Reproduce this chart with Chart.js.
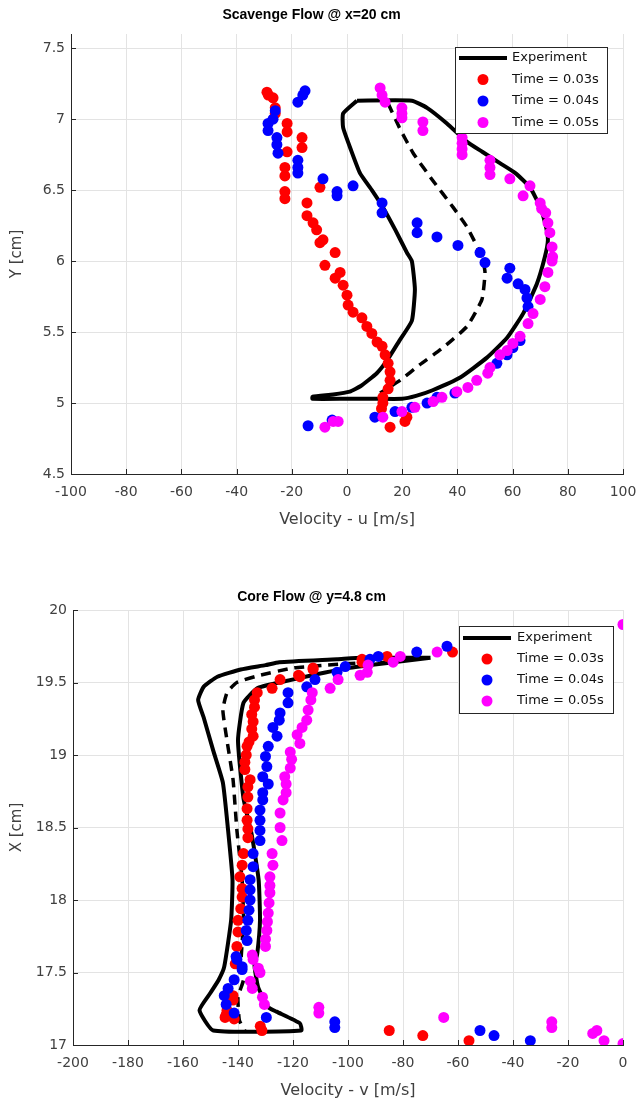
<!DOCTYPE html>
<html>
<head>
<meta charset="utf-8">
<title>Scavenge / Core Flow</title>
<script src="https://cdn.jsdelivr.net/npm/chart.js@4.4.1/dist/chart.umd.min.js"></script>
<style>
	html, body { margin: 0; padding: 0; background: #ffffff; }
	.flow-plot { position: absolute; left: 0; width: 636px; height: 554px; }
	#scavenge-plot { top: 0; }
	#core-plot { top: 554px; }
</style>
</head>
<body>
<div class="flow-plot" id="scavenge-plot"><canvas id="scavenge-canvas" width="636" height="554"></canvas></div>
<div class="flow-plot" id="core-plot"><canvas id="core-canvas" width="636" height="554"></canvas></div>
<script>
// ---- Scavenge flow @ x=20 cm ----
const scavengeXTicks = [-100, -80, -60, -40, -20, 0, 20, 40, 60, 80, 100];
const scavengeYTicks = [4.5, 5, 5.5, 6, 6.5, 7, 7.5];

// experiment envelope (solid), velocity u and height Y
const scavengeExpU = [3.6, -1.4, -1.4, 1.5, 4.7, 9, 13, 17.5, 21.7, 23.5, 24.6, 23.5, 19, 14.5, 10.8, 5, 1, -5, -12.5, -12.5, 0, 10, 20, 25, 31, 41, 50.7, 58, 63.8, 68.8, 71.7, 72.8, 72, 70, 66.3, 61, 55.4, 49, 43.5, 36.2, 29, 23.5, 3.6];
const scavengeExpY = [7.13, 7.04, 6.94, 6.78, 6.62, 6.5, 6.38, 6.22, 6.06, 6.0, 5.8, 5.58, 5.44, 5.3, 5.21, 5.12, 5.08, 5.06, 5.045, 5.03, 5.03, 5.03, 5.03, 5.05, 5.09, 5.18, 5.32, 5.46, 5.63, 5.84, 6.03, 6.15, 6.25, 6.38, 6.52, 6.62, 6.69, 6.77, 6.84, 6.97, 7.08, 7.13, 7.13];
// experiment mean (dashed)
const scavengeMeanU = [14.9, 19, 24, 31, 38.4, 43.5, 48.9, 50, 48.9, 43.5, 34.8, 26.4, 19.2, 12];
const scavengeMeanY = [7.11, 6.94, 6.76, 6.57, 6.38, 6.24, 6.03, 5.92, 5.73, 5.54, 5.39, 5.27, 5.16, 5.07];

const scavengeT03U = [-29, -28.5, -26.8, -26, -26, -21.7, -21.7, -16.3, -16.3, -21.7, -22.5, -22.5, -9.8, -22.5, -22.5, -14.5, -14.5, -12.3, -11, -8.7, -9.8, -4.3, -8, -2.5, -4.3, -1.4, 0, 0.4, 2.2, 5.4, 7.2, 9, 10.9, 12.7, 13.8, 14.9, 15.6, 15.6, 14.9, 13, 13, 12.5, 21.7, 21, 15.6];
const scavengeT03Y = [7.19, 7.17, 7.15, 7.08, 7.04, 6.97, 6.91, 6.87, 6.8, 6.77, 6.66, 6.6, 6.52, 6.49, 6.44, 6.41, 6.32, 6.27, 6.22, 6.15, 6.13, 6.06, 5.97, 5.92, 5.88, 5.83, 5.76, 5.69, 5.64, 5.6, 5.54, 5.49, 5.43, 5.4, 5.34, 5.28, 5.22, 5.16, 5.1, 5.04, 5.0, 4.96, 4.9, 4.87, 4.83];

const scavengeT04U = [-15.2, -16, -17.8, -26, -26.8, -28.6, -28.6, -25.4, -25.4, -25, -17.8, -17.8, -17.8, -8.7, -3.6, -3.6, 2.2, 12.7, 12.7, 25.4, 25.4, 32.6, 40.2, 48.2, 50, 59, 58, 62, 64.5, 65.2, 65.6, 62.7, 60.1, 58, 54.3, 39.1, 32.6, 29, 23.5, 17.4, 10.1, -5.4, -14.1];
const scavengeT04Y = [7.2, 7.17, 7.12, 7.06, 7.0, 6.97, 6.92, 6.87, 6.82, 6.76, 6.71, 6.66, 6.62, 6.58, 6.49, 6.46, 6.53, 6.41, 6.34, 6.27, 6.2, 6.17, 6.11, 6.06, 5.99, 5.95, 5.88, 5.84, 5.8, 5.74, 5.68, 5.44, 5.39, 5.34, 5.28, 5.07, 5.04, 5.0, 4.97, 4.94, 4.9, 4.88, 4.84];

const scavengeT05U = [12, 12.7, 13.8, 19.9, 19.9, 19.9, 27.5, 27.5, 41.7, 41.7, 41.7, 41.7, 51.8, 51.8, 51.8, 59, 66.3, 63.8, 70, 70.5, 72, 72.8, 73.5, 74.3, 74.5, 74.3, 72.8, 71.7, 70, 67.4, 65.6, 62.7, 60.1, 58, 55.4, 51.8, 51, 47, 43.8, 39.8, 34.4, 31.2, 24.6, 19.9, 13, -3.2, -5, -8];
const scavengeT05Y = [7.22, 7.17, 7.12, 7.08, 7.04, 7.01, 6.98, 6.92, 6.87, 6.83, 6.79, 6.75, 6.71, 6.66, 6.61, 6.58, 6.53, 6.46, 6.41, 6.37, 6.34, 6.27, 6.2, 6.1, 6.03, 6.0, 5.92, 5.82, 5.73, 5.63, 5.56, 5.47, 5.42, 5.37, 5.34, 5.25, 5.21, 5.16, 5.11, 5.08, 5.04, 5.01, 4.97, 4.94, 4.9, 4.87, 4.87, 4.83];

// ---- Core flow @ y=4.8 cm ----
const coreXTicks = [-200, -180, -160, -140, -120, -100, -80, -60, -40, -20, 0];
const coreYTicks = [17, 17.5, 18, 18.5, 19, 19.5, 20];

const coreExpV = [-70, -95, -104, -125, -130, -139, -147.5, -152.5, -154.5, -152.5, -149, -145.5, -143.6, -142, -142.5, -145, -147, -150, -154, -149, -117, -117.5, -126, -129, -132.7, -134, -133, -132, -132.5, -135, -138, -140, -138, -133, -125, -113, -100, -88, -70];
const coreExpX = [19.67, 19.67, 19.66, 19.64, 19.62, 19.59, 19.54, 19.47, 19.38, 19.26, 19.03, 18.81, 18.48, 18.14, 17.86, 17.54, 17.45, 17.36, 17.24, 17.1, 17.1, 17.15, 17.23, 17.26, 17.4, 17.55, 17.63, 17.86, 18.14, 18.45, 18.7, 19.1, 19.36, 19.46, 19.5, 19.55, 19.6, 19.63, 19.67];
const coreMeanV = [-85, -96, -107.6, -120, -132, -140.4, -144, -145.5, -144, -141.8, -140.4, -138.5, -138, -139, -138, -140, -139.5, -137.5];
const coreMeanX = [19.64, 19.635, 19.62, 19.6, 19.55, 19.5, 19.43, 19.31, 19.1, 18.83, 18.48, 18.14, 17.86, 17.54, 17.45, 17.33, 17.17, 17.1];

const coreT03V = [-62, -85.8, -94.9, -94.9, -112.7, -112.7, -117.5, -118, -124.7, -127.6, -133, -134, -134, -135, -134.5, -135, -134.5, -136, -136.7, -137, -137.5, -137.5, -136.4, -135.6, -136.4, -136.7, -136.7, -136.4, -136.4, -138, -138.5, -139.3, -138.5, -138.5, -139, -140, -140, -140.4, -141, -141.8, -141.8, -144, -144.3, -144.7, -141.4, -131.9, -131.3, -85, -72.8, -56];
const coreT03X = [19.71, 19.68, 19.66, 19.64, 19.6, 19.59, 19.54, 19.55, 19.52, 19.46, 19.43, 19.38, 19.33, 19.28, 19.23, 19.18, 19.13, 19.09, 19.06, 19.0, 18.95, 18.9, 18.78, 18.83, 18.71, 18.63, 18.55, 18.49, 18.43, 18.32, 18.24, 18.16, 18.08, 18.02, 17.94, 17.86, 17.78, 17.68, 17.56, 17.34, 17.31, 17.24, 17.21, 17.19, 17.18, 17.13, 17.1, 17.1, 17.065, 17.03];

const coreT04V = [-64, -75, -89, -92, -101, -104, -112, -115, -121.8, -121.8, -124.7, -125, -127.3, -125.8, -129, -130, -129.5, -131, -129, -131, -131, -132, -132, -132, -132, -134.5, -134.5, -135.6, -135.6, -135.6, -136, -136.4, -137, -136.7, -140.4, -138.5, -140.7, -138.5, -141.4, -143.6, -145, -144.3, -141.4, -129.7, -104.8, -104.8, -52, -46.9, -33.7];
const coreT04X = [19.75, 19.71, 19.68, 19.66, 19.61, 19.57, 19.52, 19.47, 19.43, 19.36, 19.29, 19.24, 19.19, 19.13, 19.06, 18.99, 18.92, 18.85, 18.8, 18.74, 18.69, 18.62, 18.55, 18.48, 18.41, 18.32, 18.23, 18.14, 18.07, 18.0, 17.93, 17.86, 17.79, 17.72, 17.59, 17.54, 17.61, 17.52, 17.45, 17.39, 17.34, 17.28, 17.22, 17.19, 17.16, 17.12, 17.1, 17.065, 17.03];

const coreT05V = [0, -67.6, -81, -83.6, -92.7, -93, -95.6, -103.6, -106.5, -113, -113.5, -114.5, -115, -116.7, -118.5, -117.5, -121, -120.5, -121, -123, -122.5, -122.5, -123.6, -124.7, -124.7, -124, -127.6, -127.3, -128.4, -128.4, -128.4, -128.7, -129, -129.3, -129.5, -130, -130, -134.5, -134.8, -132, -132.6, -135.5, -134.8, -131.1, -130.4, -110.6, -110.6, -65.2, -25.9, -25.9, -11, -9.5, -6.9, 0];
const coreT05X = [19.9, 19.71, 19.68, 19.64, 19.62, 19.57, 19.55, 19.52, 19.46, 19.43, 19.38, 19.31, 19.24, 19.19, 19.14, 19.08, 19.02, 18.97, 18.91, 18.85, 18.8, 18.74, 18.69, 18.6, 18.5, 18.41, 18.32, 18.24, 18.16, 18.1, 18.05, 17.98, 17.91, 17.85, 17.79, 17.73, 17.68, 17.59, 17.62, 17.5, 17.53, 17.44, 17.39, 17.33, 17.28, 17.26, 17.22, 17.19, 17.16, 17.12, 17.08, 17.1, 17.03, 17.01];

const seriesLabels = ['Experiment', 'Time = 0.03s', 'Time = 0.04s', 'Time = 0.05s'];
const seriesColours = ['#000000', '#ff0000', '#0000ff', '#ff00ff'];

const fontFamily = '"DejaVu Sans", "Liberation Sans", Arial, sans-serif';
const titleFamily = '"Liberation Sans", Arial, sans-serif';
const axisColour = '#262626';
const gridColour = '#e3e3e3';

function pairUp( xs, ys) {
	return xs.map( function( x, i) { return { x: x, y: ys[i] }; });
}

// MATLAB style legend box inside the axes (top right)
const boxLegendPlugin = {
	id: 'boxLegend',
	afterDatasetsDraw( chart, args, opts) {
		const ctx = chart.ctx;
		const area = chart.chartArea;
		const x0 = area.right - opts.right - opts.width;
		const y0 = area.top + opts.top;
		ctx.save();
		ctx.fillStyle = '#ffffff';
		ctx.fillRect( x0, y0, opts.width, opts.height);
		ctx.strokeStyle = axisColour;
		ctx.lineWidth = 1;
		ctx.strokeRect( x0 + 0.5, y0 + 0.5, opts.width, opts.height);
		ctx.font = opts.fontSize + 'px ' + fontFamily;
		ctx.textBaseline = 'middle';
		ctx.textAlign = 'left';
		var row = 0;
		chart.data.datasets.forEach( function( ds) {
			if ( ds.hideInLegend) {
				return;
			}
			var cy = y0 + opts.firstRow + row * opts.rowGap;
			if ( ds.showLine) {
				ctx.strokeStyle = ds.borderColor;
				ctx.lineWidth = ds.borderWidth;
				ctx.setLineDash( []);
				ctx.beginPath();
				ctx.moveTo( x0 + 4, cy);
				ctx.lineTo( x0 + opts.lineEnd, cy);
				ctx.stroke();
			} else {
				ctx.fillStyle = ds.backgroundColor;
				ctx.beginPath();
				ctx.arc( x0 + opts.markX, cy, ds.pointRadius, 0, Math.PI * 2);
				ctx.fill();
			}
			ctx.fillStyle = '#111111';
			ctx.fillText( ds.label, x0 + opts.textX, cy);
			row++;
		});
		ctx.restore();
	}
};

// small inward tick marks along left and bottom axes
const innerTicksPlugin = {
	id: 'innerTicks',
	afterDraw( chart) {
		const ctx = chart.ctx;
		const area = chart.chartArea;
		const xs = chart.scales.x;
		const ys = chart.scales.y;
		ctx.save();
		ctx.strokeStyle = axisColour;
		ctx.lineWidth = 1;
		ctx.beginPath();
		xs.ticks.forEach( function( t) {
			var px = Math.round( xs.getPixelForValue( t.value)) + 0.5;
			ctx.moveTo( px, area.bottom);
			ctx.lineTo( px, area.bottom - 5);
		});
		ys.ticks.forEach( function( t) {
			var py = Math.round( ys.getPixelForValue( t.value)) + 0.5;
			ctx.moveTo( area.left, py);
			ctx.lineTo( area.left + 5, py);
		});
		ctx.stroke();
		ctx.restore();
	}
};

function buildDatasets( expPts, meanPts, t03, t04, t05) {
	return [
		{
			label: seriesLabels[0], data: expPts, showLine: true,
			borderColor: seriesColours[0], borderWidth: 4, pointRadius: 0,
			tension: 0.15, order: 4
		},
		{
			label: 'mean', hideInLegend: true, data: meanPts, showLine: true,
			borderColor: seriesColours[0], borderWidth: 3.5, borderDash: [10, 7],
			pointRadius: 0, tension: 0.15, order: 4
		},
		{ label: seriesLabels[1], data: t03, backgroundColor: seriesColours[1], borderWidth: 0, pointRadius: 5.5, order: 3 },
		{ label: seriesLabels[2], data: t04, backgroundColor: seriesColours[2], borderWidth: 0, pointRadius: 5.5, order: 2 },
		{ label: seriesLabels[3], data: t05, backgroundColor: seriesColours[3], borderWidth: 0, pointRadius: 5.5, order: 1 }
	];
}

function flowOptions( p) {
	return {
		responsive: false,
		animation: false,
		layout: { padding: { left: 0, right: 13, top: 0, bottom: 0 } },
		plugins: {
			legend: { display: false },
			tooltip: { enabled: false },
			title: {
				display: true,
				text: p.title,
				color: '#000000',
				font: { family: titleFamily, size: 14, weight: 'bold' },
				padding: { top: p.titleTop, bottom: p.titleBottom }
			},
			boxLegend: p.legend
		},
		scales: {
			x: {
				type: 'linear',
				min: p.xTicks[0],
				max: p.xTicks[p.xTicks.length - 1],
				afterBuildTicks: function( scale) {
					scale.ticks = p.xTicks.map( function( v) { return { value: v }; });
				},
				afterFit: function( scale) {
					scale.height = p.xAxisHeight;
					scale.paddingLeft = 0;
					scale.paddingRight = 0;
				},
				ticks: {
					color: '#404040',
					padding: 10,
					maxRotation: 0,
					autoSkip: false,
					font: { family: fontFamily, size: 14 },
					callback: function( v) { return String( v); }
				},
				grid: { color: gridColour, lineWidth: 1, drawTicks: false },
				border: { color: axisColour, width: 1 },
				title: {
					display: true,
					text: p.xTitle,
					color: '#404040',
					font: { family: fontFamily, size: 16 },
					padding: { top: 0, bottom: p.xTitleBottom }
				}
			},
			y: {
				type: 'linear',
				min: p.yMin,
				max: p.yMax,
				afterBuildTicks: function( scale) {
					scale.ticks = p.yTicks.map( function( v) { return { value: v }; });
				},
				afterFit: function( scale) {
					scale.width = p.yAxisWidth;
					scale.paddingTop = 0;
					scale.paddingBottom = 0;
				},
				ticks: {
					color: '#404040',
					padding: 6,
					autoSkip: false,
					font: { family: fontFamily, size: 14 },
					callback: function( v) { return String( v); }
				},
				grid: { color: gridColour, lineWidth: 1, drawTicks: false },
				border: { color: axisColour, width: 1 },
				title: {
					display: true,
					text: p.yTitle,
					color: '#404040',
					font: { family: fontFamily, size: 15 },
					padding: { top: 8, bottom: 0 }
				}
			}
		}
	};
}

const scavengeChart = new Chart( document.getElementById( 'scavenge-canvas'), {
	type: 'scatter',
	data: {
		datasets: buildDatasets(
			pairUp( scavengeExpU, scavengeExpY),
			pairUp( scavengeMeanU, scavengeMeanY),
			pairUp( scavengeT03U, scavengeT03Y),
			pairUp( scavengeT04U, scavengeT04Y),
			pairUp( scavengeT05U, scavengeT05Y))
	},
	options: flowOptions({
		title: 'Scavenge Flow @ x=20 cm',
		titleTop: 7, titleBottom: 10.2,
		xTicks: scavengeXTicks, yTicks: scavengeYTicks,
		yMin: 4.5, yMax: 7.6,
		xAxisHeight: 80, yAxisWidth: 71,
		xTitle: 'Velocity - u [m/s]', xTitleBottom: 24.4,
		yTitle: 'Y [cm]',
		legend: { right: 16, top: 13, width: 152, height: 86, firstRow: 11, rowGap: 21.5, lineEnd: 52, markX: 28, textX: 57, fontSize: 13 }
	}),
	plugins: [boxLegendPlugin, innerTicksPlugin]
});

const coreChart = new Chart( document.getElementById( 'core-canvas'), {
	type: 'scatter',
	data: {
		datasets: buildDatasets(
			pairUp( coreExpV, coreExpX),
			pairUp( coreMeanV, coreMeanX),
			pairUp( coreT03V, coreT03X),
			pairUp( coreT04V, coreT04X),
			pairUp( coreT05V, coreT05X))
	},
	options: flowOptions({
		title: 'Core Flow @ y=4.8 cm',
		titleTop: 35, titleBottom: 4.2,
		xTicks: coreXTicks, yTicks: coreYTicks,
		yMin: 17, yMax: 20,
		xAxisHeight: 63, yAxisWidth: 73,
		xTitle: 'Velocity - v [m/s]', xTitleBottom: 7.4,
		yTitle: 'X [cm]',
		legend: { right: 10, top: 16, width: 154, height: 87, firstRow: 12, rowGap: 21, lineEnd: 52, markX: 28, textX: 58, fontSize: 13 }
	}),
	plugins: [boxLegendPlugin, innerTicksPlugin]
});
</script>
</body>
</html>
